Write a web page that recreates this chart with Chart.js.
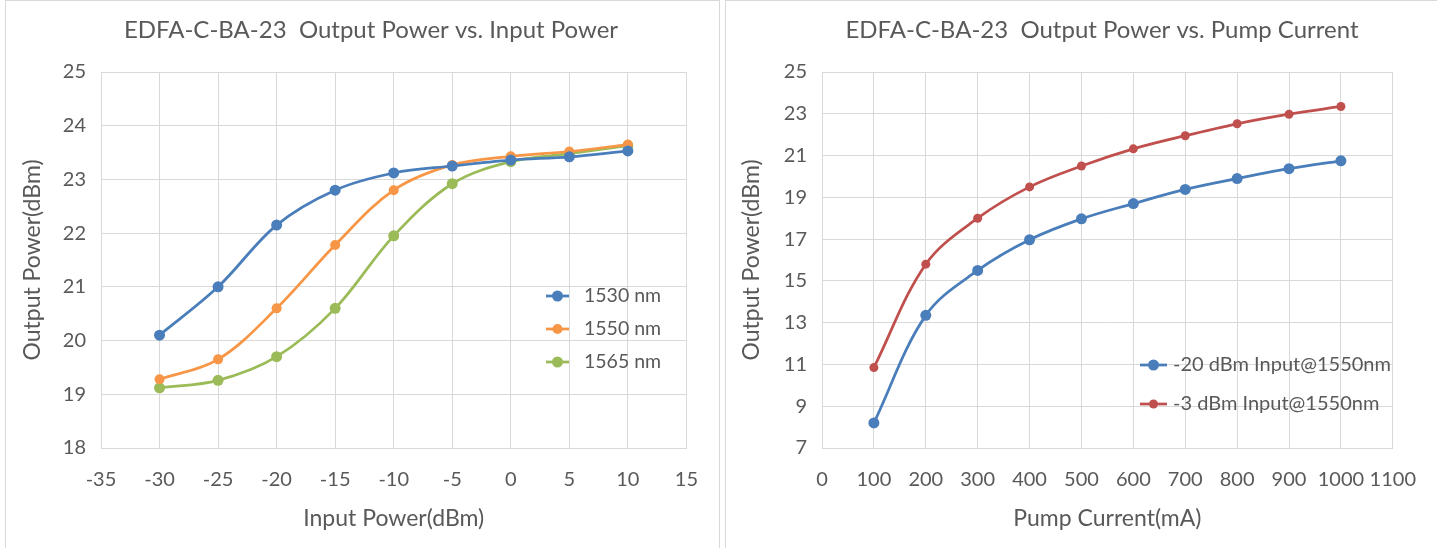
<!DOCTYPE html>
<html>
<head>
<meta charset="utf-8">
<script src="https://cdn.jsdelivr.net/npm/chart.js@4.4.1/dist/chart.umd.min.js"></script>
<style>
html, body { margin: 0; padding: 0; background: #fff; }
body { width: 1437px; height: 548px; overflow: hidden; position: relative; }
.panel { position: absolute; top: 0; height: 600px; border: 1px solid #d9d9d9; box-sizing: border-box; }
#p1 { left: 5px; width: 715px; }
#p2 { left: 725px; width: 730px; }
canvas { position: absolute; }
</style>
</head>
<body>
<div class="panel" id="p1"></div>
<div class="panel" id="p2"></div>
<canvas id="inputChart" width="712" height="546" style="left:6px;top:1px;width:712px;height:546px"></canvas>
<canvas id="pumpChart" width="710" height="546" style="left:726px;top:1px;width:710px;height:546px"></canvas>
<script>
// values
const inputPower = [-30, -25, -20, -15, -10, -5, 0, 5, 10];
const out1530 = [20.1, 21.0, 22.15, 22.8, 23.12, 23.25, 23.36, 23.42, 23.53];
const out1550 = [19.28, 19.65, 20.6, 21.78, 22.8, 23.27, 23.43, 23.52, 23.65];
const out1565 = [19.12, 19.26, 19.7, 20.6, 21.95, 22.92, 23.33, 23.48, 23.63];

const pumpCurrent = [100, 200, 300, 400, 500, 600, 700, 800, 900, 1000];
const outIn20 = [8.2, 13.35, 15.5, 16.97, 17.97, 18.7, 19.38, 19.9, 20.37, 20.75];
const outIn3 = [10.85, 15.8, 18.0, 19.5, 20.5, 21.32, 21.95, 22.52, 22.98, 23.35];

const FONT = 'Lato, "Open Sans", sans-serif';
const TEXT = '#595959';
const GRID = '#d9d9d9';

function points(xs, ys) {
    return xs.map((x, i) => ({ x: x, y: ys[i] }));
}

function series(label, xs, ys, color, radius) {
    return {
        label: label,
        data: points(xs, ys),
        borderColor: color,
        backgroundColor: color,
        borderWidth: 2.75,
        pointRadius: radius,
        pointHoverRadius: radius,
        pointBorderWidth: 0,
        tension: 0.35
    };
}

// chart title, placed where the Excel original has it
const chartTitle = {
    id: 'chartTitle',
    afterDraw(chart, args, opts) {
        const ctx = chart.ctx;
        ctx.save();
        ctx.font = opts.fontSize + 'px ' + FONT;
        ctx.fillStyle = TEXT;
        ctx.textAlign = 'center';
        ctx.textBaseline = 'middle';
        ctx.fillText(opts.text, opts.x, opts.y);
        ctx.restore();
    }
};

// legend drawn inside the plot area
const insideLegend = {
    id: 'insideLegend',
    afterDatasetsDraw(chart, args, opts) {
        const { ctx, chartArea } = chart;
        ctx.save();
        ctx.font = opts.fontSize + 'px ' + FONT;
        ctx.textBaseline = 'middle';
        ctx.textAlign = 'left';
        chart.data.datasets.forEach((ds, i) => {
            const x = chartArea.left + opts.x;
            const y = chartArea.top + opts.y + i * opts.rowGap;
            ctx.strokeStyle = ds.borderColor;
            ctx.lineWidth = ds.borderWidth;
            ctx.beginPath();
            ctx.moveTo(x, y);
            ctx.lineTo(x + opts.lineLen, y);
            ctx.stroke();
            ctx.fillStyle = ds.borderColor;
            ctx.beginPath();
            ctx.arc(x + opts.lineLen / 2, y, ds.pointRadius, 0, Math.PI * 2);
            ctx.fill();
            ctx.fillStyle = TEXT;
            ctx.fillText(ds.label, x + opts.lineLen + opts.gap, y);
        });
        ctx.restore();
    }
};

function axis(min, max, step, title, fit, tickPad, titlePad) {
    return {
        type: 'linear',
        min: min,
        max: max,
        ticks: {
            stepSize: step,
            color: TEXT,
            font: { family: FONT, size: 20 },
            padding: tickPad,
            maxRotation: 0,
            minRotation: 0,
            autoSkip: false,
            callback: (v) => String(v)
        },
        grid: { color: GRID, lineWidth: 1, drawTicks: false },
        border: { color: GRID },
        title: { display: true, text: title, color: TEXT, font: { family: FONT, size: 23 }, padding: titlePad },
        afterFit(scale) {
            if (scale.isHorizontal()) scale.height = fit;
            else scale.width = fit;
        }
    };
}

function renderChart(canvasId, datasets, opts) {
    const ctx = document.getElementById(canvasId);
    return new Chart(ctx, {
        type: 'line',
        data: { datasets: datasets },
        options: {
            responsive: false,
            animation: false,
            layout: { padding: { left: 0, right: opts.rightPad, top: 71, bottom: 0 } },
            scales: {
                x: axis(opts.x[0], opts.x[1], opts.x[2], opts.xTitle, 99, 20, { top: 0, bottom: 15 }),
                y: axis(opts.y[0], opts.y[1], opts.y[2], opts.yTitle, opts.yFit, 15, { top: opts.yTitlePad, bottom: 0 })
            },
            plugins: {
                legend: { display: false },
                tooltip: { enabled: false },
                chartTitle: opts.title,
                insideLegend: opts.legend
            }
        },
        plugins: [chartTitle, insideLegend]
    });
}

renderChart('inputChart', [
    series('1530 nm', inputPower, out1530, '#4a7ebb', 5.5),
    series('1550 nm', inputPower, out1550, '#f79646', 5),
    series('1565 nm', inputPower, out1565, '#9bbb59', 5.5)
], {
    title: { text: 'EDFA-C-BA-23  Output Power vs. Input Power', x: 365, y: 29, fontSize: 24 },
    xTitle: 'Input Power(dBm)',
    yTitle: 'Output Power(dBm)',
    x: [-35, 15, 5],
    y: [18, 25, 1],
    rightPad: 27,
    yFit: 95,
    yTitlePad: 13,
    legend: { x: 445, y: 224, rowGap: 33, lineLen: 23, gap: 15, fontSize: 19.5 }
});

renderChart('pumpChart', [
    series('-20 dBm Input@1550nm', pumpCurrent, outIn20, '#4a7ebb', 5.5),
    series('-3 dBm Input@1550nm', pumpCurrent, outIn3, '#c0504d', 4.5)
], {
    title: { text: 'EDFA-C-BA-23  Output Power vs. Pump Current', x: 376, y: 29, fontSize: 24 },
    xTitle: 'Pump Current(mA)',
    yTitle: 'Output Power(dBm)',
    x: [0, 1100, 100],
    y: [7, 25, 2],
    rightPad: 36,
    yFit: 96,
    yTitlePad: 12,
    legend: { x: 318, y: 293, rowGap: 39, lineLen: 27, gap: 6, fontSize: 20 }
});
</script>
</body>
</html>
